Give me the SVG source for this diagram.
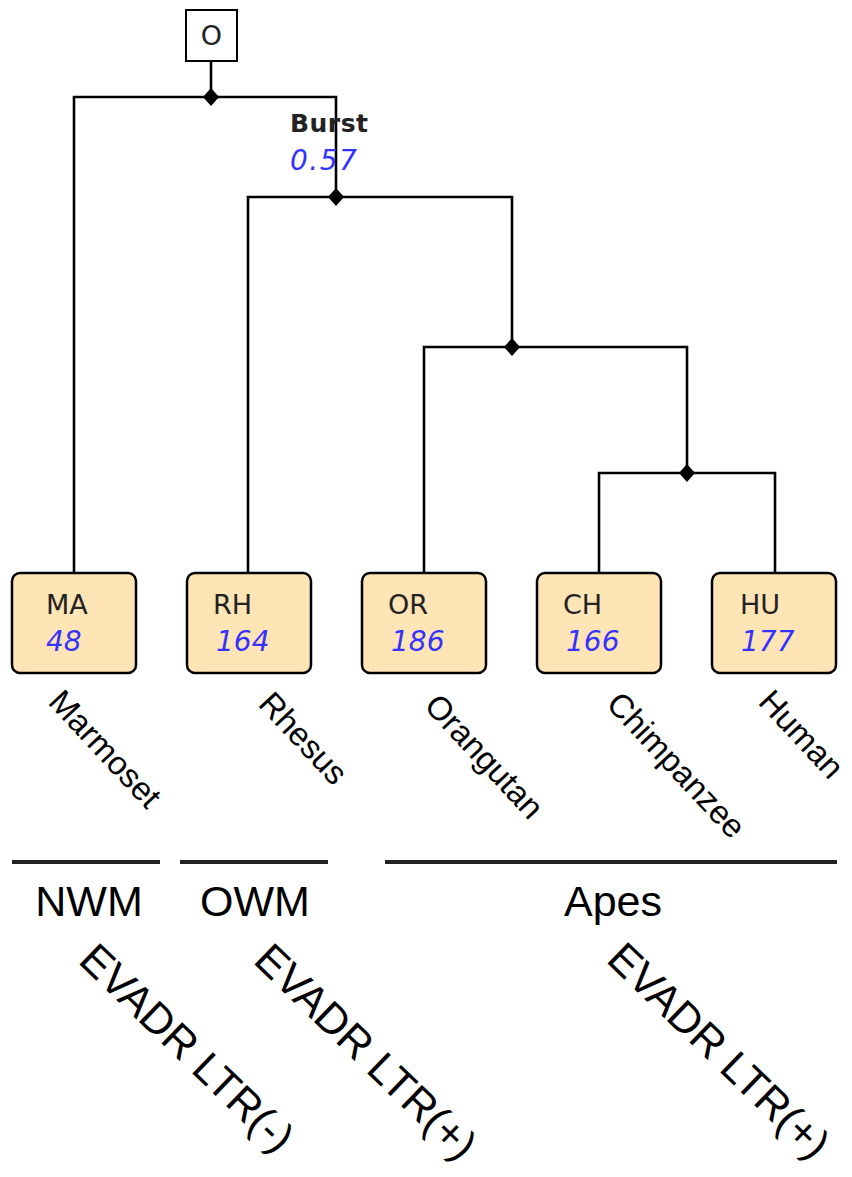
<svg xmlns="http://www.w3.org/2000/svg" width="852" height="1177" viewBox="0 0 852 1177">
<style>
.edge{fill:none;stroke:#000;stroke-width:2.6;stroke-linecap:square}
.box{fill:#FFE4B5;stroke:#000;stroke-width:2.5}
.lbl{font-family:"DejaVu Sans",sans-serif;font-size:27px;fill:#222}
.num{font-family:"DejaVu Sans",sans-serif;font-size:28px;font-style:italic;fill:#3333FF}
.sp{font-family:"Liberation Sans",Arial,sans-serif;font-size:33px;fill:#000}
.grp{font-family:"Liberation Sans",Arial,sans-serif;font-size:43px;fill:#000}
.bar{stroke:#222;stroke-width:4}
</style>
<defs>
<path id="dia" d="M0,-9 L8,0 L0,9 L-8,0 Z" fill="#000"/>
</defs>
<rect width="852" height="1177" fill="#fff"/>
<g id="connectors">
<path class="edge" d="M211,61 V97"/>
<path class="edge" d="M74,572 V97 H336 V197"/>
<path class="edge" d="M248,572 V197 H512 V347"/>
<path class="edge" d="M424,572 V347 H687 V473"/>
<path class="edge" d="M599,572 V473 H775 V572"/>
<use href="#dia" x="211" y="97"/>
<use href="#dia" x="336" y="197"/>
<use href="#dia" x="512" y="347"/>
<use href="#dia" x="687" y="473"/>
</g>
<g id="root">
<rect x="186" y="10" width="51" height="51" fill="#fff" stroke="#000" stroke-width="2"/>
<text class="lbl" x="211.5" y="45" text-anchor="middle">O</text>
</g>
<g id="burst">
<text x="290" y="132" font-family="DejaVu Sans,sans-serif" font-size="25" font-weight="bold" fill="#222" letter-spacing="0.5">Burst</text>
<text class="num" x="290" y="170" letter-spacing="1.5">0.57</text>
</g>
<g id="MA">
<rect class="box" x="12" y="573" width="124" height="100" rx="8"/>
<text class="lbl" x="46" y="614">MA</text>
<text class="num" x="46" y="651">48</text>
<text class="sp" transform="translate(47,703) rotate(47)">Marmoset</text>
</g>
<g id="RH">
<rect class="box" x="187" y="573" width="124" height="100" rx="8"/>
<text class="lbl" x="213" y="614">RH</text>
<text class="num" x="216" y="651">164</text>
<text class="sp" transform="translate(257,705) rotate(47)">Rhesus</text>
</g>
<g id="OR">
<rect class="box" x="362" y="573" width="124" height="100" rx="8"/>
<text class="lbl" x="388" y="614">OR</text>
<text class="num" x="391" y="651">186</text>
<text class="sp" transform="translate(423,707) rotate(47)">Orangutan</text>
</g>
<g id="CH">
<rect class="box" x="537" y="573" width="124" height="100" rx="8"/>
<text class="lbl" x="563" y="614">CH</text>
<text class="num" x="566" y="651">166</text>
<text class="sp" transform="translate(605,705) rotate(47)">Chimpanzee</text>
</g>
<g id="HU">
<rect class="box" x="712" y="573" width="124" height="100" rx="8"/>
<text class="lbl" x="740" y="614">HU</text>
<text class="num" x="741" y="651">177</text>
<text class="sp" transform="translate(757,703) rotate(47)">Human</text>
</g>
<g id="NWM">
<line class="bar" x1="12" y1="862" x2="160" y2="862"/>
<text class="grp" x="89" y="916" text-anchor="middle">NWM</text>
<text class="grp" transform="translate(77,962) rotate(44)">EVADR LTR(-)</text>
</g>
<g id="OWM">
<line class="bar" x1="180" y1="862" x2="328" y2="862"/>
<text class="grp" x="255" y="916" text-anchor="middle">OWM</text>
<text class="grp" transform="translate(252,962) rotate(44)">EVADR LTR(+)</text>
</g>
<g id="Apes">
<line class="bar" x1="385" y1="862" x2="837" y2="862"/>
<text class="grp" x="613" y="916" text-anchor="middle">Apes</text>
<text class="grp" transform="translate(605,961) rotate(44)">EVADR LTR(+)</text>
</g>
</svg>
